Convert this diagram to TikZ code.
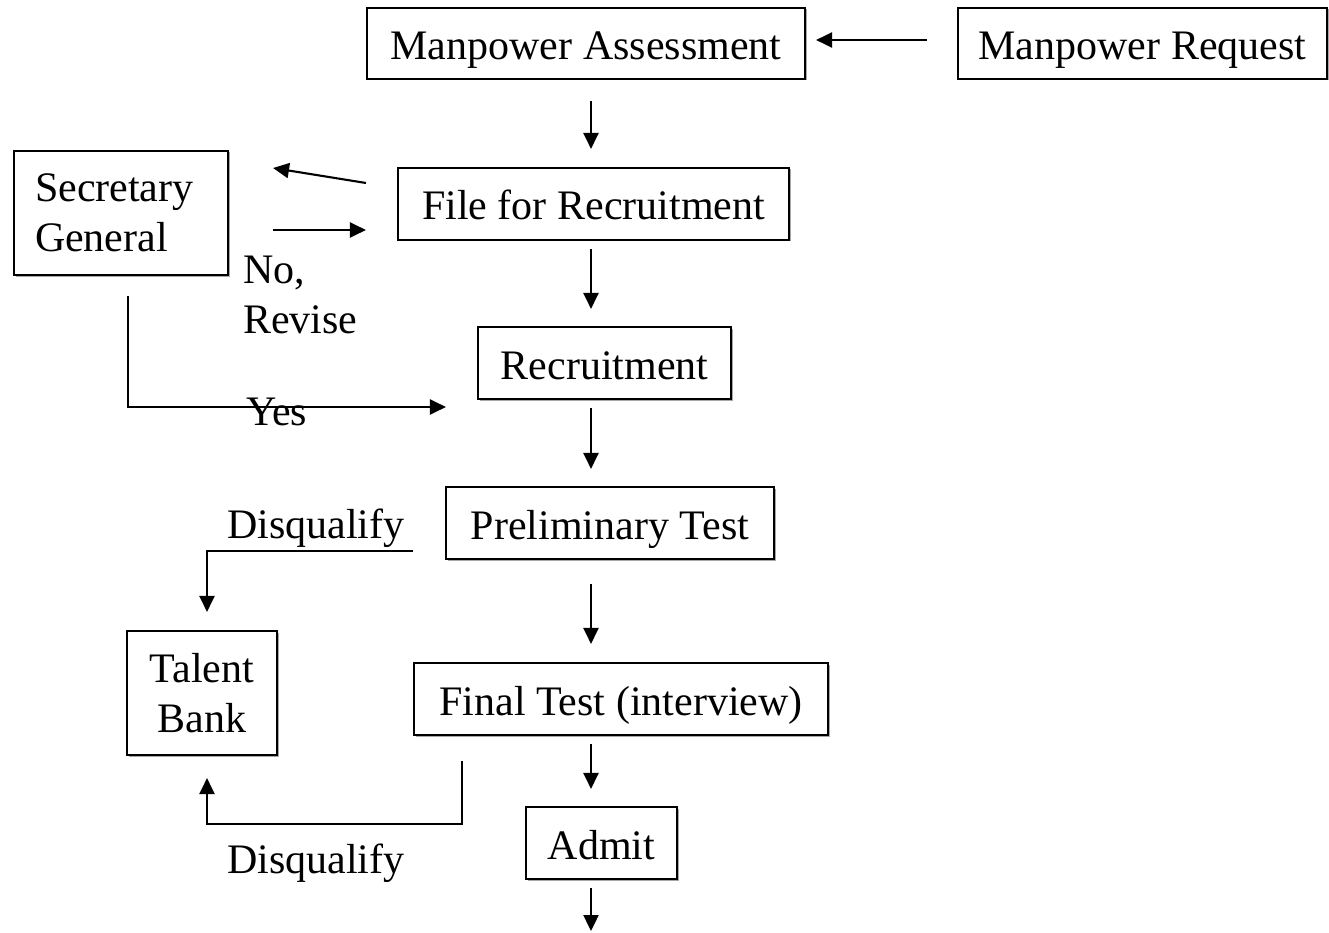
\documentclass[tikz,border=0pt]{standalone}
\usepackage{fontspec}
\setmainfont{Liberation Serif}
\usetikzlibrary{arrows.meta,calc,shadows}
\begin{document}
\begin{tikzpicture}[x=1pt,y=-1pt,
  lbl/.style={font=\fontsize{42}{50}\selectfont, inner sep=0pt},
  box/.style={draw, line width=2.1pt, inner sep=0pt, fill=white,
    font=\fontsize{42}{50}\selectfont,
    drop shadow={shadow xshift=1.5pt, shadow yshift=-1.5pt, fill=black!35, opacity=1}},
  one/.style={text height=32pt, text depth=0pt},
  arr/.style={line width=2.1pt, -{Triangle[length=16pt,width=15pt]}}]
\useasboundingbox (0,0) rectangle (1329,933);
\coordinate (spine) at (591,0);
% boxes
\node[box, one, minimum width=438pt, minimum height=71pt] (ma) at (586,43.5) {Manpower Assessment};
\node[box, one, minimum width=369pt, minimum height=71pt] (mr) at (1142.5,43.5) {Manpower Request};
\node[box, one, minimum width=391pt, minimum height=72pt] (ffr) at (593.5,204) {File for Recruitment};
\node[box, minimum height=124pt, text width=172pt, inner xsep=21pt, align=left] (sg) at (121,213) {Secretary\\General};
\node[box, one, minimum width=253pt, minimum height=72pt] (rec) at (604.5,363) {Recruitment};
\node[box, one, minimum width=328pt, minimum height=72pt] (pt) at (610,523) {Preliminary Test};
\node[box, minimum width=150pt, minimum height=124pt, align=center] (tb) at (202,693) {Talent\\Bank};
\node[box, one, minimum width=414pt, minimum height=72pt] (ft) at (621,699) {Final Test (interview)};
\node[box, one, minimum width=151pt, minimum height=72pt] (ad) at (601.5,843) {Admit};
% labels
\node[lbl, anchor=base west] (no) at (243,283) {No,};
\node[lbl, anchor=base west] (rv) at (243,333) {Revise};
\node[lbl, anchor=base west] (yes) at (246,425) {Yes};
\node[lbl, anchor=base west] (dq1) at (227,538) {Disqualify};
\node[lbl, anchor=base west] (dq2) at (227,873) {Disqualify};
% main spine arrows
\draw[arr] ($(mr.west)+(-30,-3.5)$) -- ($(ma.east)+(10,-3.5)$);
\draw[arr] ($(ma.south -| spine)+(0,21)$) -- ($(ffr.north -| spine)+(0,-18)$);
\draw[arr] ($(ffr.south -| spine)+(0,8)$) -- ($(rec.north -| spine)+(0,-17)$);
\draw[arr] ($(rec.south -| spine)+(0,8)$) -- ($(pt.north -| spine)+(0,-17)$);
\draw[arr] ($(pt.south -| spine)+(0,24)$) -- ($(ft.north -| spine)+(0,-18)$);
\draw[arr] ($(ft.south -| spine)+(0,8)$) -- ($(ad.north -| spine)+(0,-17)$);
\draw[arr] ($(ad.south -| spine)+(0,8)$) -- ($(ad.south -| spine)+(0,51)$);
% secretary general loop
\draw[arr] ($(ffr.west)+(-31,-21)$) -- ($(sg.east)+(44,-45)$);
\draw[arr] ($(sg.east)+(44,17)$) -- ($(ffr.west)+(-31,26)$);
\draw[arr] ($(sg.south)+(7,20)$) |- ($(rec.west)+(-31,44)$);
% disqualify paths
\draw[arr] ($(pt.west)+(-32,28)$) -| ($(tb.north)+(5,-18)$);
\draw[arr] ($(ft.south west)+(49,25)$) -- ++(0,63) -| ($(tb.south)+(5,22)$);
\end{tikzpicture}
\end{document}
